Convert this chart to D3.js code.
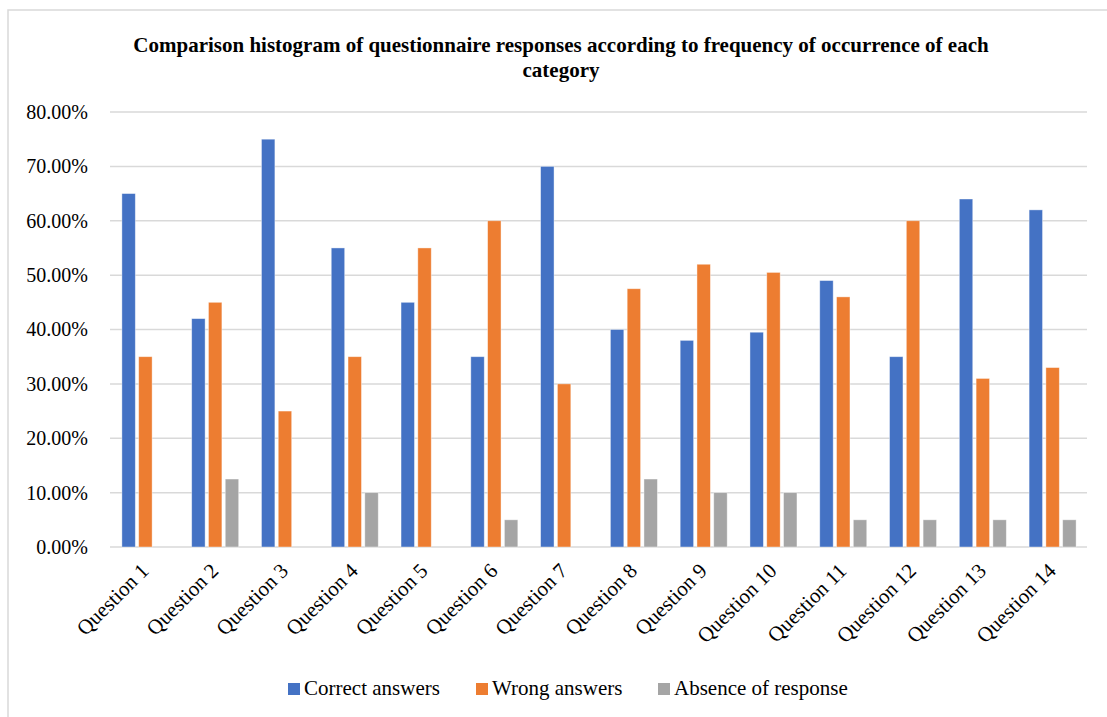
<!DOCTYPE html>
<html>
<head>
<meta charset="utf-8">
<script src="https://cdn.jsdelivr.net/npm/d3@7"></script>
<style>
  html, body { margin: 0; padding: 0; background: #fff; }
  svg { display: block; font-family: "Liberation Serif", "Times New Roman", serif; }
</style>
</head>
<body>
<div id="chart"></div>
<script>
// data (percent)
const questions = ["Question 1", "Question 2", "Question 3", "Question 4", "Question 5", "Question 6", "Question 7",
                   "Question 8", "Question 9", "Question 10", "Question 11", "Question 12", "Question 13", "Question 14"];
const seriesNames = ["Correct answers", "Wrong answers", "Absence of response"];
const correct = [65, 42, 75, 55, 45, 35, 70, 40, 38, 39.5, 49, 35, 64, 62];
const wrong   = [35, 45, 25, 35, 55, 60, 30, 47.5, 52, 50.5, 46, 60, 31, 33];
const absent  = [0, 12.5, 0, 10, 0, 5, 0, 12.5, 10, 10, 5, 5, 5, 5];
const yTicks = [0, 10, 20, 30, 40, 50, 60, 70, 80];
const colors = ["#4472C4", "#ED7D31", "#A5A5A5"];

const W = 1107, H = 717;

const svg = d3.select("#chart").append("svg")
  .attr("width", W).attr("height", H);

// chart frame (only top and left edges show in the picture)
svg.append("path")
  .attr("d", "M8,717 L8,10 L1107,10")
  .attr("fill", "none").attr("stroke", "#d9d9d9").attr("stroke-width", 1.5);

// title
const title = svg.append("text")
  .attr("text-anchor", "middle")
  .attr("font-weight", "bold").attr("font-size", "21px");
title.append("tspan").attr("x", 561).attr("y", 52)
  .text("Comparison histogram of questionnaire responses according to frequency of occurrence of each");
title.append("tspan").attr("x", 561).attr("y", 77).text("category");

const x0 = d3.scaleBand().domain(questions).range([110, 1087]);
const x1 = d3.scaleBand().domain(d3.range(3)).range([-23, 24]).paddingInner(0.2);
const y = d3.scaleLinear().domain([0, 80]).range([547, 112]);

// gridlines
svg.append("g").selectAll("line").data(yTicks).join("line")
  .attr("x1", 110).attr("x2", 1087)
  .attr("y1", d => y(d)).attr("y2", d => y(d))
  .attr("stroke", "#d9d9d9").attr("stroke-width", 1.5);

// y axis labels
const yAxis = d3.axisLeft(y).tickValues(yTicks).tickSize(0).tickPadding(0)
  .tickFormat(d => d3.format(".2f")(d) + "%");
const gy = svg.append("g").attr("transform", "translate(88,0)").call(yAxis);
gy.select(".domain").remove();
gy.selectAll("text").attr("font-size", "20px").attr("fill", "#000")
  .attr("font-family", "Liberation Serif, serif");

// bars
const rows = questions.map((q, i) => ({q, vals: [correct[i], wrong[i], absent[i]]}));
const groups = svg.append("g").selectAll("g").data(rows).join("g")
  .attr("transform", d => `translate(${x0(d.q) + x0.bandwidth() / 2},0)`);
groups.selectAll("rect").data(d => d.vals.map((v, k) => ({v, k}))).join("rect")
  .attr("x", d => x1(d.k))
  .attr("width", x1.bandwidth())
  .attr("y", d => y(d.v))
  .attr("height", d => y(0) - y(d.v))
  .attr("fill", d => colors[d.k])
  .attr("stroke", "#fff").attr("stroke-opacity", 0.5).attr("stroke-width", 0.8);

// x axis labels
const xAxis = d3.axisBottom(x0).tickSize(0).tickPadding(0);
const gx = svg.append("g").attr("transform", "translate(0,547)").call(xAxis);
gx.select(".domain").remove();
gx.selectAll("text")
  .attr("font-size", "21px").attr("fill", "#000")
  .attr("font-family", "Liberation Serif, serif")
  .attr("text-anchor", "end")
  .attr("dy", null).attr("y", 0)
  .attr("transform", "translate(5,25) rotate(-45)");

// legend
const legendX = [288, 476, 658];
const legend = svg.append("g").selectAll("g").data(seriesNames).join("g")
  .attr("transform", (d, i) => `translate(${legendX[i]},695)`);
legend.append("rect").attr("x", 0).attr("y", -12).attr("width", 12).attr("height", 12)
  .attr("fill", (d, i) => colors[i]);
legend.append("text").attr("x", 16).attr("y", 0)
  .attr("font-size", "21px").text(d => d);
</script>
</body>
</html>
